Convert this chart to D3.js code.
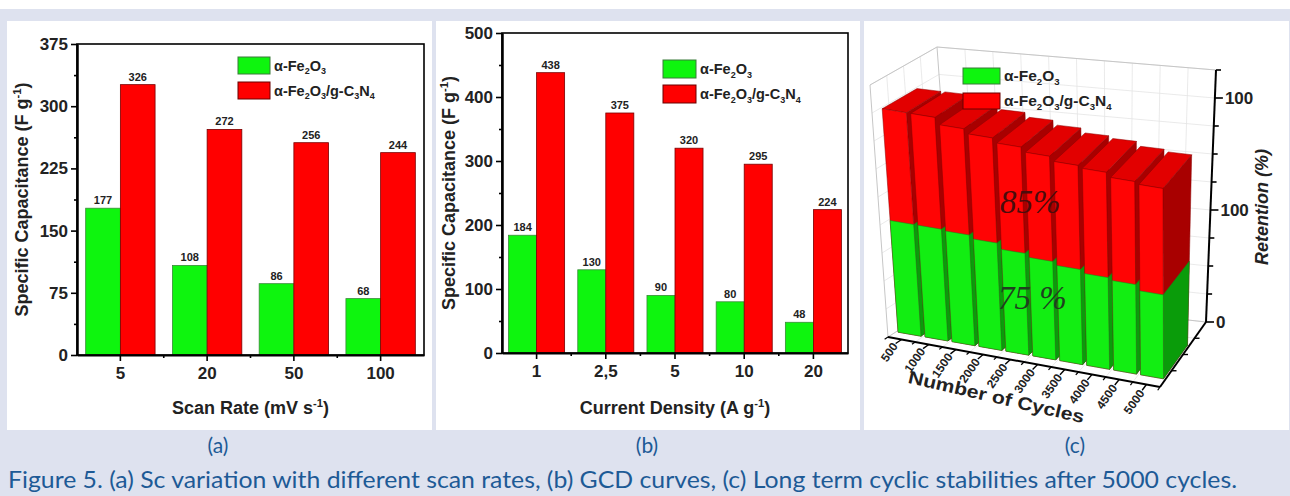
<!DOCTYPE html>
<html><head><meta charset="utf-8">
<script src="https://cdn.jsdelivr.net/npm/d3@7/dist/d3.min.js"></script>
<style>html,body{margin:0;padding:0;background:#fff}svg{display:block}</style>
</head><body>
<svg id="fig" width="1290" height="496" xmlns="http://www.w3.org/2000/svg"></svg>
<script>
// ---------------- data ----------------
const scanRates = ["5","20","50","100"];
const scanFe2O3 = [177,108,86,68];
const scanComposite = [326,272,256,244];
const scanTicks = [0,75,150,225,300,375];

const densities = ["1","2,5","5","10","20"];
const densFe2O3 = [184,130,90,80,48];
const densComposite = [438,375,320,295,224];
const densTicks = [0,100,200,300,400,500];

const cycles = ["500","1000","1500","2000","2500","3000","3500","4000","4500","5000"];
const cycFe2O3 = [100,100,99,96,91,88,85,82,80,75];
const cycComposite = [100,100,97,95,93,91,89,88,86,85];
const retTickLabelValues = [0,100,200];
const retTickLabels = ["0","100","100"];

const panelLetters = ["(a)","(b)","(c)"];
const caption = "Figure 5. (a) Sc variation with different scan rates, (b) GCD curves, (c) Long term cyclic stabilities after 5000 cycles.";

// ---------------- setup ----------------
const GREEN = "#0ef50e", RED = "#ff0000";
const FONT = "'Liberation Sans', Arial, sans-serif";
const CAP = "#1d5a96";
const svg = d3.select("#fig");
svg.append("rect").attr("width",1290).attr("height",496).attr("fill","#dee2ef");
svg.append("rect").attr("width",1290).attr("height",9).attr("fill","#fff");
[[7,21,425,409],[436,21,424,409],[864,21,425,409]].forEach(r =>
  svg.append("rect").attr("x",r[0]).attr("y",r[1]).attr("width",r[2]).attr("height",r[3]).attr("fill","#fff"));

function rich(sel, parts, fs){
  let cur = 0;
  parts.forEach(([t,m]) => {
    const target = m==="sub" ? fs*0.25 : m==="sup" ? -fs*0.4 : 0;
    sel.append("tspan").attr("dy",(target-cur)+"px").attr("font-size",(m?fs*0.62:fs)+"px").text(t);
    cur = target;
  });
  return sel;
}
const fe2o3Parts = [["α-Fe",0],["2","sub"],["O",0],["3","sub"]];
const compParts = [["α-Fe",0],["2","sub"],["O",0],["3","sub"],["/g-C",0],["3","sub"],["N",0],["4","sub"]];

function legend(g, x, y1, y2, sw, sh, fs){
  g.append("rect").attr("x",x).attr("y",y1).attr("width",sw).attr("height",sh).attr("fill",GREEN).attr("stroke","#3a7a3a").attr("stroke-width",1);
  g.append("rect").attr("x",x).attr("y",y2).attr("width",sw).attr("height",sh).attr("fill",RED).attr("stroke","#6a0000").attr("stroke-width",1);
  rich(g.append("text").attr("x",x+sw+4).attr("y",y1+sh/2+5).attr("font-family",FONT).attr("font-weight","bold").attr("fill","#222"), fe2o3Parts, fs);
  rich(g.append("text").attr("x",x+sw+4).attr("y",y2+sh/2+5).attr("font-family",FONT).attr("font-weight","bold").attr("fill","#222"), compParts, fs);
}

function styleAxis(sel, fs){
  sel.select(".domain").attr("stroke","#000").attr("stroke-width",2);
  sel.selectAll(".tick line").attr("stroke","#000").attr("stroke-width",1.6);
  sel.selectAll(".tick text").attr("font-family",FONT).attr("font-weight","bold").attr("font-size",fs).attr("fill","#222");
}

function barPanel(o){
  const g = svg.append("g");
  const x = d3.scaleBand().domain(o.cats).range([o.left,o.right]).paddingInner(o.pad).paddingOuter(o.pad/2);
  const xs = d3.scaleBand().domain([0,1]).range([0,x.bandwidth()]);
  const y = d3.scaleLinear().domain([0,o.ticks[o.ticks.length-1]]).range([o.bottom,o.top]);
  const series = [{v:o.s1,fill:GREEN,stroke:"#3a8a3a"},{v:o.s2,fill:RED,stroke:"#7a0000"}];
  series.forEach((s,si) => {
    g.selectAll(null).data(o.cats).join("rect")
      .attr("x",c=>x(c)+xs(si)).attr("width",xs.bandwidth())
      .attr("y",(c,i)=>y(s.v[i])).attr("height",(c,i)=>y(0)-y(s.v[i]))
      .attr("fill",s.fill).attr("stroke",s.stroke).attr("stroke-width",0.8);
    g.selectAll(null).data(o.cats).join("text")
      .attr("x",c=>x(c)+xs(si)+xs.bandwidth()/2).attr("y",(c,i)=>y(s.v[i])-4)
      .attr("text-anchor","middle").attr("font-size",11).attr("font-weight","bold")
      .attr("font-family",FONT).attr("fill","#222").text((c,i)=>s.v[i]);
  });
  g.append("rect").attr("x",o.left).attr("y",o.top).attr("width",o.right-o.left).attr("height",o.bottom-o.top)
    .attr("fill","none").attr("stroke","#000").attr("stroke-width",1.6);
  const ya = g.append("g").attr("transform",`translate(${o.left},0)`)
    .call(d3.axisLeft(y).tickValues(o.ticks).tickSize(6).tickSizeOuter(0).tickPadding(3));
  styleAxis(ya,17);
  const mids = d3.pairs(o.ticks).map(([a,b])=>(a+b)/2);
  const ym = g.append("g").attr("transform",`translate(${o.left},0)`)
    .call(d3.axisLeft(y).tickValues(mids).tickSize(3).tickSizeOuter(0).tickFormat(""));
  styleAxis(ym,17);
  const xa = g.append("g").attr("transform",`translate(0,${o.bottom})`)
    .call(d3.axisBottom(x).tickSize(6).tickSizeOuter(0).tickPadding(6));
  styleAxis(xa,17);
  o.cats.slice(0,-1).forEach(c => {
    const xm = x(c)+x.bandwidth()/2+x.step()/2;
    g.append("line").attr("x1",xm).attr("x2",xm).attr("y1",o.bottom).attr("y2",o.bottom+3).attr("stroke","#000").attr("stroke-width",1.6);
  });
  const yt = g.append("text").attr("transform",`translate(${o.ytx},${(o.top+o.bottom)/2}) rotate(-90)`)
    .attr("text-anchor","middle").attr("dy","0.35em").attr("font-family",FONT).attr("font-weight","bold").attr("fill","#222");
  rich(yt, [["Specific Capacitance  (F g",0],["-1","sup"],[")",0]], 18);
  const xt = g.append("text").attr("x",(o.left+o.right)/2).attr("y",414)
    .attr("text-anchor","middle").attr("font-family",FONT).attr("font-weight","bold").attr("fill","#222");
  rich(xt, o.xtitle, 18);
  legend(g, o.lx, o.ly1, o.ly2, o.lw, o.lh, 14.5);
}

barPanel({cats:scanRates, s1:scanFe2O3, s2:scanComposite, ticks:scanTicks,
  left:77, right:424, top:44, bottom:355, pad:0.2, ytx:28,
  xtitle:[["Scan Rate (mV s",0],["-1","sup"],[")",0]],
  lx:238, ly1:57, ly2:82, lw:32, lh:17});
barPanel({cats:densities, s1:densFe2O3, s2:densComposite, ticks:densTicks,
  left:502, right:848, top:33, bottom:353, pad:0.19, ytx:455,
  xtitle:[["Current Density (A g",0],["-1","sup"],[")",0]],
  lx:663, ly1:60, ly2:85, lw:33, lh:18});

// ---------------- panel (c): 3D bars ----------------
(function(){
  const g = svg.append("g");
  const C = {FLB:[888,337],FRB:[1160,387],BLB:[955,294],BRB:[1206,322],
             FLT:[870,85],FRT:[1158,135],BLT:[937,47],BRT:[1216,70]};
  const L = (a,b,t)=>[a[0]+(b[0]-a[0])*t, a[1]+(b[1]-a[1])*t];
  const P = (u,w,v)=>{
    const b = L(L(C.FLB,C.FRB,u), L(C.BLB,C.BRB,u), w);
    const t = L(L(C.FLT,C.FRT,u), L(C.BLT,C.BRT,u), w);
    return L(b,t,v);
  };
  const poly = pts=>"M"+pts.map(p=>p[0].toFixed(2)+","+p[1].toFixed(2)).join("L")+"Z";
  const seg = (a,b)=>"M"+a[0].toFixed(2)+","+a[1].toFixed(2)+"L"+b[0].toFixed(2)+","+b[1].toFixed(2);
  const u = d3.scaleBand().domain(cycles).range([0,1]).paddingInner(0.15).paddingOuter(0.075);
  const axisMax = 225;
  const vz = d3.scaleLinear().domain([0,axisMax]).range([0,1]);
  const greenZ = d3.scaleLinear().domain([0,100]).range([0,vz(retTickLabelValues[1])]);
  const redZ = d3.scaleLinear().domain([0,100]).range([0,vz(retTickLabelValues[2])]);
  const ticks = d3.range(0,axisMax+1,25);

  g.append("path").attr("d",poly([P(0,1,0),P(1,1,0),P(1,1,1),P(0,1,1)])).attr("fill","#fff");
  const grid = g.append("g").attr("stroke","#e4e4e4").attr("stroke-width",0.8).attr("fill","none");
  ticks.forEach(t=>{
    grid.append("path").attr("d",seg(P(0,1,vz(t)),P(1,1,vz(t))));
    grid.append("path").attr("d",seg(P(0,0,vz(t)),P(0,1,vz(t))));
  });
  d3.range(1,10).forEach(k=>{
    grid.append("path").attr("d",seg(P(k/10,1,0),P(k/10,1,1)));
    grid.append("path").attr("d",seg(P(k/10,0,0),P(k/10,1,0)));
  });
  [0.25,0.5,0.75].forEach(w=>{
    grid.append("path").attr("d",seg(P(0,w,0),P(0,w,1)));
    grid.append("path").attr("d",seg(P(0,w,0),P(1,w,0)));
  });
  const edges = g.append("g").attr("stroke","#c6c6c6").attr("stroke-width",1).attr("fill","none");
  [[P(0,0,1),P(0,1,1)],[P(0,1,1),P(1,1,1)],[P(0,0,0),P(0,0,1)],[P(0,1,0),P(0,1,1)],
   [P(0,1,0),P(1,1,0)],[P(0,0,0),P(0,1,0)]].forEach(e=>edges.append("path").attr("d",seg(e[0],e[1])));

  // bars
  const w0 = 0.12, w1 = 0.64;
  cycles.forEach((c,i)=>{
    const u0 = u(c), u1 = u0+u.bandwidth();
    const box = (vt, front, top, side, stroke, drawTop)=>{
      g.append("path").attr("d",poly([P(u1,w0,0),P(u1,w1,0),P(u1,w1,vt),P(u1,w0,vt)]))
        .attr("fill",side).attr("stroke",stroke).attr("stroke-width",0.5);
      if(drawTop) g.append("path").attr("d",poly([P(u0,w0,vt),P(u1,w0,vt),P(u1,w1,vt),P(u0,w1,vt)]))
        .attr("fill",top).attr("stroke",stroke).attr("stroke-width",0.5);
      g.append("path").attr("d",poly([P(u0,w0,0),P(u1,w0,0),P(u1,w0,vt),P(u0,w0,vt)]))
        .attr("fill",front).attr("stroke",stroke).attr("stroke-width",0.5);
    };
    box(redZ(cycComposite[i]), "#ff0404", "#e20000", "#a80000", "#8a0000", true);
    box(greenZ(cycFe2O3[i]), "#12ee12", "#10c010", "#0a9c0a", "#1c7a1c", false);
  });

  // front (cycles) axis
  g.append("path").attr("d",seg(P(0,0,0),P(1,0,0))).attr("stroke","#000").attr("stroke-width",2);
  cycles.forEach(c=>{
    const uc = u(c)+u.bandwidth()/2;
    g.append("path").attr("d",seg(P(uc,0,0),P(uc,-0.09,0))).attr("stroke","#000").attr("stroke-width",1.4);
    const p = P(uc,-0.1,0);
    g.append("text").attr("transform",`translate(${p[0]},${p[1]}) rotate(-55)`)
      .attr("text-anchor","end").attr("dy","0.35em").attr("font-family",FONT).attr("font-weight","bold")
      .attr("font-size",12).attr("fill","#222").text(c);
  });
  d3.range(0,11).forEach(k=>{
    g.append("path").attr("d",seg(P(k/10,0,0),P(k/10,-0.05,0))).attr("stroke","#000").attr("stroke-width",1.2);
  });
  // depth axis
  g.append("path").attr("d",seg(P(1,0,0),P(1,1,0))).attr("stroke","#000").attr("stroke-width",2);
  [0.25,0.5,0.75].forEach(w=>{ const p=P(1,w,0); g.append("path").attr("d",seg(p,[p[0]+5,p[1]])).attr("stroke","#000").attr("stroke-width",1.4); });
  // vertical axis
  g.append("path").attr("d",seg(P(1,1,0),P(1,1,1))).attr("stroke","#000").attr("stroke-width",2);
  ticks.forEach(t=>{
    const p = P(1,1,vz(t));
    const lab = retTickLabelValues.indexOf(t);
    g.append("path").attr("d",seg(p,[p[0]+(lab>=0?8:5),p[1]])).attr("stroke","#000").attr("stroke-width",1.6);
    if(lab>=0) g.append("text").attr("x",p[0]+10).attr("y",p[1]).attr("dy","0.36em")
      .attr("font-family",FONT).attr("font-weight","bold").attr("font-size",17).attr("fill","#222").text(retTickLabels[lab]);
  });
  g.append("text").attr("transform","translate(1262,207) rotate(-90)").attr("text-anchor","middle").attr("dy","0.35em")
    .attr("font-family",FONT).attr("font-style","italic").attr("font-weight","bold").attr("font-size",18).attr("fill","#222").text("Retention (%)");
  g.append("text").attr("transform","translate(995,403) rotate(13)").attr("text-anchor","middle")
    .attr("font-family",FONT).attr("font-weight","bold").attr("font-size",18).attr("fill","#222")
    .attr("textLength",180).attr("lengthAdjust","spacingAndGlyphs").text("Number of Cycles");
  g.append("text").attr("x",1000).attr("y",213).attr("font-family","'Liberation Serif', 'Times New Roman', serif")
    .attr("font-style","italic").attr("font-size",33).attr("fill","#4a0c0c").text(cycComposite[cycComposite.length-1]+"%");
  g.append("text").attr("x",998).attr("y",309).attr("font-family","'Liberation Serif', 'Times New Roman', serif")
    .attr("font-style","italic").attr("font-size",33).attr("fill","#1f3f1f").text(cycFe2O3[cycFe2O3.length-1]+" %");
  legend(g, 963, 68, 93, 37, 16, 15.5);
})();

// ---------------- captions ----------------
[218,647,1075].forEach((cx,i)=>svg.append("text").attr("x",cx).attr("y",453).attr("text-anchor","middle")
  .attr("font-family","Lato, 'Open Sans', sans-serif").attr("font-size",21).attr("fill",CAP).text(panelLetters[i]));
svg.append("text").attr("x",8).attr("y",488).attr("font-family","Lato, 'Open Sans', sans-serif").attr("font-size",23)
  .attr("fill",CAP).attr("textLength",1229).attr("lengthAdjust","spacingAndGlyphs").text(caption);
</script>
</body></html>
